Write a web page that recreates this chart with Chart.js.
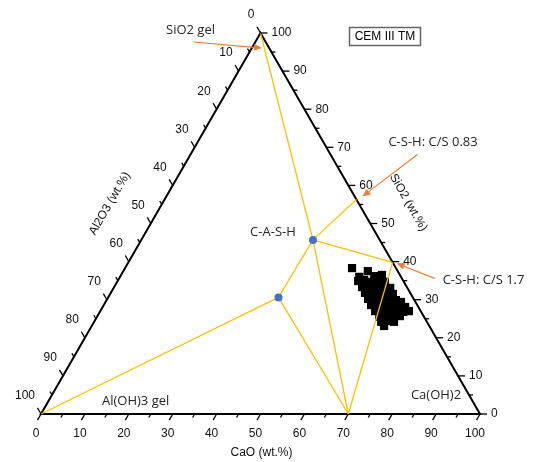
<!DOCTYPE html>
<html><head><meta charset="utf-8">
<script src="https://cdn.jsdelivr.net/npm/chart.js@4"></script>
<style>html,body{margin:0;padding:0;background:#fff}canvas{display:block}</style>
</head><body>
<canvas id="c" width="533" height="462"></canvas>
<script>
// ---- axis ticks (wt.%) ----
const majorTicks = [0,10,20,30,40,50,60,70,80,90,100];
const minorTicks = [5,15,25,35,45,55,65,75,85,95];

// ---- measured compositions, CEM III TM (wt.%) ----
const sampleCaO   = [51.7,55.7,54.5,59.4,57.8, 54.8,56.0,57.8,59.2,61.0, 56.5,57.9,59.8,61.1,63.0, 57.9,59.4,61.2,62.6,64.4, 59.4,60.9,62.7,64.0,65.9,67.3, 60.9,62.3,64.2,65.5,67.4,68.9, 62.6,64.0,65.9,67.2,69.1,70.3, 64.3,65.7,67.6,68.9, 65.4,66.8,68.3, 66.6];
const sampleSiO2  = [38.3,37.5,36.0,36.5,36.2, 34.9,35.2,34.7,35.2,34.7, 33.3,33.6,33.1,33.6,33.1, 31.8,32.0,31.5,32.0,31.5, 30.2,30.5,29.9,30.5,29.9,29.4, 28.6,28.9,28.4,28.9,28.4,28.1, 27.0,27.3,26.8,27.3,26.8,27.0, 25.5,25.7,25.2,25.7, 24.2,24.4,24.2, 23.1];
const sampleAl2O3 = [10.0,6.8,9.5,4.1,6.0, 10.3,8.8,7.5,5.6,4.3, 10.2,8.5,7.1,5.3,3.9, 10.3,8.6,7.3,5.4,4.1, 10.4,8.6,7.4,5.5,4.2,3.3, 10.5,8.8,7.4,5.6,4.2,3.0, 10.4,8.7,7.3,5.5,4.1,2.7, 10.2,8.6,7.2,5.4, 10.4,8.8,7.5, 10.3];

// ---- reference phases (wt.%) ----
const phaseNames = ['SiO2 gel','C-S-H: C/S 0.83','C-S-H: C/S 1.7','C-A-S-H','C-A-S-H (Al)','C-A-H','Al(OH)3 gel','Ca(OH)2'];
const phaseCaO   = [0, 43.7, 60.2, 39.1, 38.8, 70, 0, 100];
const phaseSiO2  = [100, 56.3, 39.8, 45.7, 30.6, 0, 0, 0];
const phaseAl2O3 = [0, 0, 0, 15.2, 30.6, 30, 100, 0];
const tieLines = [[0,3],[3,1],[3,2],[3,5],[3,4],[4,6],[4,5],[2,5]];
const markedPhases = [3,4];

const R3 = Math.sqrt(3)/2;
function tern(c,s,a){ const t=c+s+a; return {x:(c+s/2)/t*100, y:s/t*100*R3}; }
const phasePt = i => tern(phaseCaO[i], phaseSiO2[i], phaseAl2O3[i]);

const datasets = [];
datasets.push({label:'phases', data: markedPhases.map(phasePt), showLine:false, pointRadius:4, pointHoverRadius:4,
  backgroundColor:'#4472C4', borderColor:'#4472C4', borderWidth:0, order:0, clip:false});
tieLines.forEach(([i,j],k)=>{
  datasets.push({label:'tie'+k, data:[phasePt(i),phasePt(j)], showLine:true, pointRadius:0, borderColor:'#FFC000', borderWidth:1.3, order:1, clip:false});
});
datasets.push({label:'frame', data:[tern(0,0,100),tern(100,0,0),tern(0,100,0),tern(0,0,100),tern(100,0,0)], showLine:true, pointRadius:0,
  borderColor:'#000', borderWidth:2, order:2, clip:false, borderJoinStyle:'miter'});
datasets.push({label:'CEM III TM', data: sampleCaO.map((c,i)=>tern(c,sampleSiO2[i],sampleAl2O3[i])), showLine:false,
  pointStyle:'rect', pointRadius:5.8, pointHoverRadius:5.8, backgroundColor:'#000', borderColor:'#000', borderWidth:0, order:3, clip:false});

function arrow(ctx,x1,y1,x2,y2){
  const ang=Math.atan2(y2-y1,x2-x1), L=8, W=3.5;
  const bx=x2-L*Math.cos(ang), by=y2-L*Math.sin(ang);
  ctx.strokeStyle='#ED7D31'; ctx.fillStyle='#ED7D31'; ctx.lineWidth=1.2;
  ctx.beginPath(); ctx.moveTo(x1,y1); ctx.lineTo(bx,by); ctx.stroke();
  ctx.beginPath(); ctx.moveTo(x2,y2);
  ctx.lineTo(bx+W*Math.sin(ang), by-W*Math.cos(ang));
  ctx.lineTo(bx-W*Math.sin(ang), by+W*Math.cos(ang));
  ctx.closePath(); ctx.fill();
}

const ternaryAxes = {
  id:'ternaryAxes',
  afterDatasetsDraw(chart){
    const ctx=chart.ctx, sx=chart.scales.x, sy=chart.scales.y;
    const P=(c,s,a)=>{const t=tern(c,s,a); return [sx.getPixelForValue(t.x), sy.getPixelForValue(t.y)];};
    ctx.save();
    ctx.strokeStyle='#000'; ctx.lineWidth=1.3;
    const tick=(p,dx,dy,len)=>{ctx.beginPath(); ctx.moveTo(p[0],p[1]); ctx.lineTo(p[0]+dx*len,p[1]+dy*len); ctx.stroke();};
    const axes=[
      {pt:v=>P(v,0,100-v), d:[-0.5,0.866]},   // CaO bottom
      {pt:v=>P(100-v,v,0), d:[1,0]},          // SiO2 right
      {pt:v=>P(0,100-v,v), d:[-0.5,-0.866]}   // Al2O3 left
    ];
    axes.forEach(a=>{
      majorTicks.forEach(v=>tick(a.pt(v),a.d[0],a.d[1],7));
      minorTicks.forEach(v=>tick(a.pt(v),a.d[0],a.d[1],4));
    });
    ctx.fillStyle='#111'; ctx.font='12px "Liberation Sans", Arial, sans-serif'; ctx.textBaseline='middle';
    majorTicks.forEach(v=>{
      let p=axes[0].pt(v); ctx.textAlign='center'; ctx.fillText(String(v), p[0]-5, p[1]+20);
      p=axes[1].pt(v); ctx.textAlign='left'; ctx.fillText(String(v), p[0]+11, p[1]);
      p=axes[2].pt(v); ctx.textAlign='right'; ctx.fillText(String(v), p[0]-6, p[1]-18);
    });
    // axis titles
    ctx.font='12px "Liberation Sans", Arial, sans-serif'; ctx.textAlign='center';
    const bm=P(50,0,50); ctx.fillText('CaO (wt.%)', bm[0]+1, bm[1]+39);
    const rm=P(50,50,0); ctx.save(); ctx.translate(rm[0]+38, rm[1]-21); ctx.rotate(Math.PI/3); ctx.fillText('SiO2 (wt.%)',0,0); ctx.restore();
    const lm=P(0,50,50); ctx.save(); ctx.translate(lm[0]-41, lm[1]-20); ctx.rotate(-Math.PI/3); ctx.fillText('Al2O3 (wt.%)',0,0); ctx.restore();
    // box label
    ctx.strokeStyle='#666'; ctx.lineWidth=1.5; ctx.strokeRect(349.5,27.5,71,18);
    ctx.fillStyle='#000'; ctx.fillText('CEM III TM', 385, 37);
    // phase annotations
    ctx.fillStyle='#262626'; ctx.font='13px "Open Sans", "Noto Sans", sans-serif';
    const g=P(0,100,0), c83=P(43.7,56.3,0), c17=P(60.2,39.8,0);
    const cash=phasePt(3), cp=[sx.getPixelForValue(cash.x), sy.getPixelForValue(cash.y)];
    const al=P(0,0,100), ca=P(100,0,0);
    ctx.textAlign='center'; ctx.fillText('SiO2 gel', g[0]-70, g[1]-3);
    ctx.fillText('C-A-S-H', cp[0]-40, cp[1]-8);
    ctx.fillText('Ca(OH)2', ca[0]-44, ca[1]-19);
    ctx.textAlign='left';
    ctx.fillText('C-S-H: C/S 0.83', c83[0]+32, c83[1]-57);
    ctx.fillText('C-S-H: C/S 1.7', c17[0]+50, c17[1]+18);
    ctx.fillText('Al(OH)3 gel', al[0]+61, al[1]-13);
    arrow(ctx, g[0]-67, g[1]+9, g[0]+1.5, g[1]+15);
    arrow(ctx, c83[0]+61, c83[1]-45, c83[0]+6, c83[1]-3);
    arrow(ctx, c17[0]+42, c17[1]+16, c17[0]+4, c17[1]+1);
    ctx.restore();
  }
};

new Chart(document.getElementById('c'), {
  type:'scatter',
  data:{datasets},
  options:{
    responsive:false, animation:false, events:[],
    layout:{padding:{left:41,right:53,top:33,bottom:48}},
    scales:{x:{type:'linear',min:0,max:100,display:false}, y:{type:'linear',min:0,max:100*R3,display:false}},
    plugins:{legend:{display:false}, tooltip:{enabled:false}}
  },
  plugins:[ternaryAxes]
});
</script>
</body></html>
